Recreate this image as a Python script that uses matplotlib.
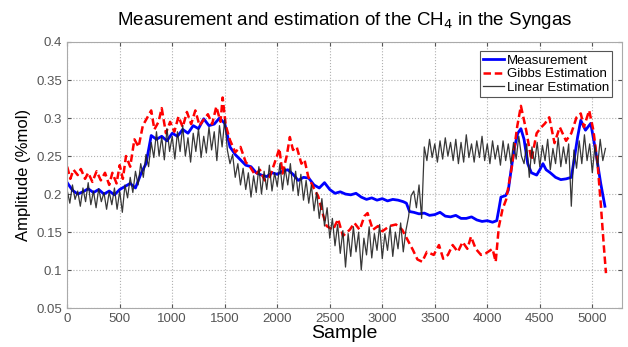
import numpy as np
import matplotlib
matplotlib.use('Agg')
import matplotlib.pyplot as plt

plt.rcParams['font.family'] = ['Liberation Sans', 'DejaVu Sans']

# Measurement (blue)
meas_x = [0, 50, 100, 150, 200, 250, 300, 350, 400, 450, 500, 550, 600, 650, 700, 750, 780, 800,
          850, 900, 950, 1000, 1050, 1100, 1150, 1200, 1250, 1300, 1350, 1400, 1450, 1500, 1550,
          1600, 1650, 1700, 1750, 1800, 1850, 1900, 1950, 2000, 2050, 2100, 2150, 2200, 2250, 2300,
          2350, 2400, 2450, 2500, 2550, 2600, 2650, 2700, 2750, 2800, 2850, 2900, 2950, 3000, 3050,
          3100, 3150, 3200, 3230, 3260, 3300, 3350, 3400, 3450, 3500, 3550, 3600, 3650, 3700, 3750,
          3800, 3850, 3900, 3950, 4000, 4050, 4090, 4110, 4130, 4175, 4200, 4230, 4260, 4290, 4320,
          4350, 4385, 4420, 4470, 4500, 4530, 4560, 4600, 4650, 4700, 4750, 4800, 4830, 4860, 4890,
          4935, 4985, 5030, 5080, 5120]
meas_y = [0.215, 0.205, 0.200, 0.203, 0.207, 0.202, 0.206, 0.200, 0.204, 0.199, 0.206, 0.210, 0.214,
          0.208, 0.226, 0.240, 0.262, 0.277, 0.272, 0.276, 0.270, 0.280, 0.276, 0.285, 0.280, 0.290,
          0.286, 0.299, 0.290, 0.292, 0.300, 0.293, 0.262, 0.252, 0.245, 0.238, 0.236, 0.228, 0.225,
          0.223, 0.228, 0.226, 0.230, 0.232, 0.226, 0.218, 0.222, 0.221, 0.212, 0.208, 0.215, 0.206,
          0.201, 0.203, 0.200, 0.199, 0.201, 0.196, 0.193, 0.195, 0.192, 0.194, 0.191, 0.193, 0.192,
          0.190, 0.188, 0.177, 0.176, 0.174, 0.175, 0.172, 0.173, 0.176, 0.171, 0.170, 0.172, 0.168,
          0.168, 0.170, 0.166, 0.164, 0.165, 0.163, 0.165, 0.180, 0.196, 0.198, 0.205, 0.235, 0.262,
          0.280, 0.286, 0.272, 0.240, 0.228, 0.225, 0.232, 0.240, 0.232, 0.228, 0.222, 0.219, 0.220,
          0.222, 0.248, 0.275, 0.297, 0.284, 0.293, 0.258, 0.214, 0.184]

# Gibbs estimation (red dashed)
gibbs_x = [0, 30, 60, 100, 130, 170, 200, 240, 280, 320, 360, 400, 430, 470, 500, 530, 560, 600, 640,
           680, 720, 760, 800, 830, 870, 900, 940, 980, 1020, 1060, 1100, 1140, 1180, 1220, 1260, 1300,
           1340, 1380, 1420, 1460, 1480, 1510, 1550, 1600, 1650, 1700, 1740, 1790, 1835, 1880, 1930,
           1995, 2020, 2050, 2090, 2120, 2150, 2185, 2230, 2260, 2295, 2340, 2390, 2440, 2470, 2530,
           2580, 2625, 2690, 2735, 2785, 2830, 2860, 2910, 2960, 3000, 3070, 3130, 3190, 3240, 3290,
           3335, 3380, 3425, 3490, 3540, 3580, 3625, 3670, 3720, 3765, 3810, 3845, 3890, 3940, 3985,
           4050, 4080, 4110, 4145, 4180, 4235, 4285, 4320, 4370, 4420, 4470, 4515, 4550, 4590, 4640,
           4690, 4750, 4800, 4850, 4890, 4920, 4970, 5010, 5050, 5080, 5110, 5130]
gibbs_y = [0.236, 0.220, 0.232, 0.225, 0.233, 0.220, 0.228, 0.216, 0.230, 0.218, 0.228, 0.212, 0.228,
           0.214, 0.238, 0.220, 0.250, 0.236, 0.272, 0.262, 0.290, 0.300, 0.310, 0.285, 0.295, 0.313,
           0.280, 0.295, 0.282, 0.302, 0.288, 0.308, 0.292, 0.310, 0.290, 0.298, 0.305, 0.292, 0.315,
           0.295, 0.327, 0.290, 0.271, 0.255, 0.262, 0.242, 0.236, 0.225, 0.232, 0.218, 0.223, 0.249,
           0.260, 0.227, 0.250, 0.275, 0.258, 0.262, 0.240, 0.245, 0.223, 0.210, 0.197, 0.171, 0.158,
           0.153, 0.167, 0.145, 0.153, 0.162, 0.153, 0.171, 0.175, 0.153, 0.158, 0.151, 0.158, 0.160,
           0.153, 0.140, 0.127, 0.114, 0.111, 0.124, 0.120, 0.133, 0.115, 0.120, 0.133, 0.124, 0.137,
           0.128, 0.144, 0.128, 0.120, 0.122, 0.128, 0.111, 0.157, 0.180, 0.193, 0.237, 0.289, 0.316,
           0.284, 0.245, 0.280, 0.288, 0.293, 0.301, 0.267, 0.288, 0.270, 0.280, 0.301, 0.306, 0.288,
           0.310, 0.284, 0.240, 0.188, 0.131, 0.096]

# Linear estimation (black, noisy) - one value every 25 samples
linear_x = np.arange(0, 5126, 25)
linear_y = [0.205, 0.188, 0.212, 0.193, 0.204, 0.184, 0.208, 0.190, 0.215, 0.186,
            0.204, 0.182, 0.207, 0.190, 0.202, 0.180, 0.203, 0.186, 0.208, 0.180,
            0.204, 0.176, 0.212, 0.195, 0.222, 0.202, 0.230, 0.212, 0.240, 0.222,
            0.252, 0.236, 0.268, 0.248, 0.282, 0.250, 0.275, 0.245, 0.286, 0.256,
            0.276, 0.246, 0.282, 0.256, 0.290, 0.250, 0.274, 0.242, 0.280, 0.256,
            0.286, 0.248, 0.276, 0.254, 0.288, 0.258, 0.282, 0.244, 0.290, 0.262,
            0.298, 0.258, 0.240, 0.252, 0.222, 0.240, 0.212, 0.234, 0.206, 0.228,
            0.196, 0.224, 0.202, 0.236, 0.200, 0.230, 0.206, 0.238, 0.204, 0.228,
            0.210, 0.240, 0.206, 0.234, 0.212, 0.240, 0.204, 0.230, 0.198, 0.226,
            0.192, 0.218, 0.188, 0.212, 0.178, 0.202, 0.168, 0.194, 0.158, 0.182,
            0.142, 0.168, 0.132, 0.160, 0.122, 0.152, 0.104, 0.148, 0.118, 0.157,
            0.124, 0.150, 0.100, 0.142, 0.120, 0.157, 0.116, 0.148, 0.126, 0.160,
            0.115, 0.148, 0.126, 0.158, 0.118, 0.150, 0.128, 0.162, 0.124, 0.152,
            0.170, 0.198, 0.204, 0.182, 0.212, 0.168, 0.262, 0.244, 0.272, 0.248,
            0.266, 0.242, 0.270, 0.246, 0.274, 0.250, 0.268, 0.244, 0.272, 0.240,
            0.268, 0.242, 0.278, 0.248, 0.266, 0.242, 0.270, 0.248, 0.276, 0.244,
            0.266, 0.240, 0.270, 0.246, 0.264, 0.238, 0.270, 0.244, 0.266, 0.240,
            0.268, 0.246, 0.276, 0.250, 0.240, 0.266, 0.222, 0.262, 0.240, 0.268,
            0.236, 0.264, 0.244, 0.272, 0.232, 0.260, 0.240, 0.274, 0.236, 0.262,
            0.240, 0.266, 0.184, 0.258, 0.234, 0.270, 0.240, 0.278, 0.244, 0.266,
            0.228, 0.264, 0.236, 0.272, 0.244, 0.260]

xticks = [0, 500, 1000, 1500, 2000, 2500, 3000, 3500, 4000, 4500, 5000]
yticks = [0.05, 0.1, 0.15, 0.2, 0.25, 0.3, 0.35, 0.4]
ytick_labels = ['0.05', '0.1', '0.15', '0.2', '0.25', '0.3', '0.35', '0.4']

fig = plt.figure(figsize=(6.28, 3.47), dpi=100)
ax = fig.add_axes([0.107, 0.112, 0.883, 0.767])

ax.plot(meas_x, meas_y, color='#0000ff', lw=2.0, label='Measurement')
ax.plot(gibbs_x, gibbs_y, color='#ff0000', lw=1.8, ls='--', dashes=(3, 1.5), label='Gibbs Estimation')
ax.plot(linear_x, linear_y, color='#222222', lw=0.9, alpha=0.9, label='Linear Estimation')

ax.set_xlim(0, 5280)
ax.set_ylim(0.05, 0.4)
ax.set_xticks(xticks)
ax.set_yticks(yticks)
ax.set_yticklabels(ytick_labels)
ax.tick_params(direction='in', top=True, right=True, labelsize=9.5, colors='#555555', length=3)
ax.grid(True, ls=':', color='#b0b0b0', lw=0.8)
for s in ax.spines.values():
    s.set_color('#aaaaaa')

ax.set_title('Measurement and estimation of the CH$_4$ in the Syngas', fontsize=13.5, pad=12)
ax.set_xlabel('Sample', fontsize=14, labelpad=0)
ax.set_ylabel('Amplitude (%mol)', fontsize=12, labelpad=4)

leg = ax.legend(loc='upper right', fontsize=9.5, fancybox=False, framealpha=1, edgecolor='#555555',
                handlelength=1.6, handletextpad=0.2, labelspacing=0.1, borderpad=0.25,
                borderaxespad=0.7)
leg.get_frame().set_linewidth(0.8)

fig.savefig('out.png', dpi=100)
